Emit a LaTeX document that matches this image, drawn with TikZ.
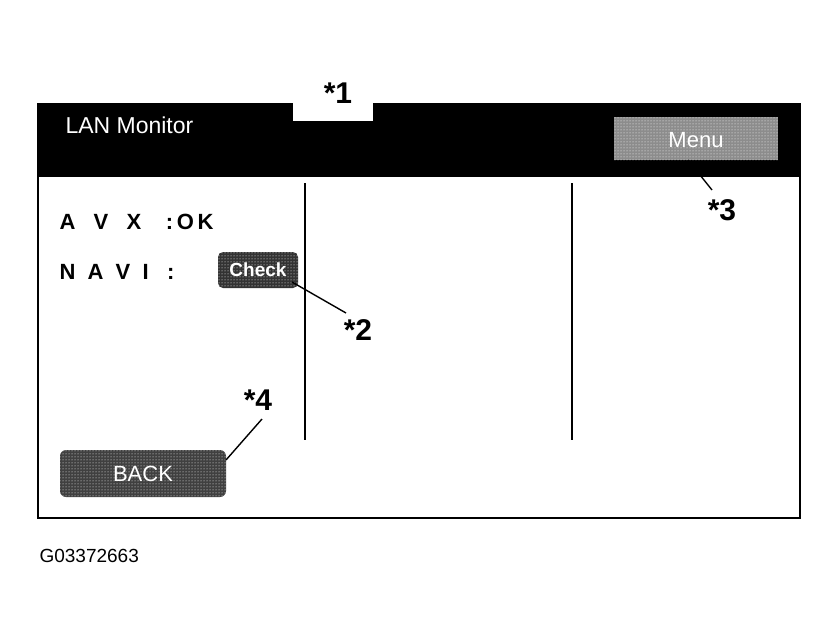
\documentclass[tikz,border=0pt]{standalone}
\usepackage{fontspec}
\setmainfont{Liberation Sans}
\usetikzlibrary{patterns}
\begin{document}
\begin{tikzpicture}[x=1pt,y=-1pt,
  lbl/.style={font=\fontsize{30}{30}\selectfont\bfseries},
  txt/.style={font=\fontsize{22}{22}\selectfont, anchor=west},
  btn/.style={draw=black, line width=1pt, rounded corners=4pt},
  lead/.style={line width=1.4pt}]
\useasboundingbox (0,0) rectangle (839,640);
\fill[white] (0,0) rectangle (839,640);
% outer frame and header
\draw[line width=1.6pt] (38,104) rectangle (800,518);
\fill[black] (38,104) rectangle (800,177);
\fill[white] (293,103) rectangle (373,121);
\node[lbl] (s1) at (338,93) {*1};
\node[txt, white, font=\fontsize{23}{23}\selectfont] (title) at (62,125) {LAN Monitor};
% Menu button
\fill[black!45] (614,117) rectangle (778,160);
\path[pattern=dots, pattern color=white] (614,117) rectangle (778,160);
\node[white, font=\fontsize{22}{22}\selectfont] (menu) at (696,140) {Menu};
% columns
\draw[line width=1.6pt] (305,183) -- (305,440);
\draw[line width=1.6pt] (572,183) -- (572,440);
% rows
\node[txt, font=\fontsize{22}{22}\selectfont\bfseries] (avx) at (56,222) {A\ \ \ V\ \ \ X\ \ \ \ :\,O\,K};
\node[txt, font=\fontsize{22}{22}\selectfont\bfseries] (navi) at (56,272) {N\ \ A\ \ V\ \ I\ \ \ :};
\fill[black!80, rounded corners=5pt] (218,252) rectangle (298,288);
\path[pattern=dots, pattern color=white, rounded corners=5pt] (218,252) rectangle (298,288);
\node[white, font=\fontsize{19}{19}\selectfont\bfseries] (check) at (258,270) {Check};
% BACK
\fill[black!75, rounded corners=6pt] (60,450) rectangle (226,497);
\path[pattern=dots, pattern color=white, rounded corners=6pt] (60,450) rectangle (226,497);
\node[white, font=\fontsize{22}{22}\selectfont] (back) at (143,474) {BACK};
% leaders and labels
\node[lbl] (s2) at (358,330) {*2};
\node[lbl] (s3) at (722,210) {*3};
\node[lbl] (s4) at (258,400) {*4};
\coordinate (c2) at (292,282);
\coordinate (c3) at (688,160);
\coordinate (c4) at (226,460);
\draw[lead] (c2) -- (346,313);
\draw[lead] (c3) -- (712,190);
\draw[lead] (c4) -- (262,419);
\node[font=\fontsize{19}{19}\selectfont, anchor=west] (code) at (36,556) {G03372663};
\end{tikzpicture}
\end{document}
